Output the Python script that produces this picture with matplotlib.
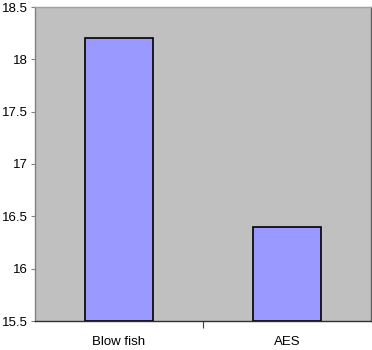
import matplotlib.pyplot as plt
import numpy as np

# Data
categories = ["Blow fish", "AES"]
values = [18.2, 16.4]
y_ticks = [15.5, 16, 16.5, 17, 17.5, 18, 18.5]
y_labels = ["15.5", "16", "16.5", "17", "17.5", "18", "18.5"]

plt.rcParams['font.family'] = ['Liberation Sans', 'DejaVu Sans']

fig = plt.figure(figsize=(3.72, 3.5), dpi=100)
ax = fig.add_axes([35 / 372, 29 / 350, 336 / 372, 314 / 350])
ax.set_facecolor('#c0c0c0')

x = np.arange(len(categories))
ax.bar(x, [v - 15.5 for v in values], bottom=15.5, width=0.4,
       color='#9999ff', edgecolor='black', linewidth=1.2, zorder=3)

ax.set_xlim(-0.5, 1.5)
ax.set_ylim(15.5, 18.5)
ax.set_yticks(y_ticks)
ax.set_yticklabels(y_labels, fontsize=9.5)

# x ticks sit between categories, labels centered under bars
ax.set_xticks([0.5])
ax.set_xticklabels([])
ax.set_xticks(x, minor=True)
ax.set_xticklabels(categories, minor=True, fontsize=9.5)
ax.tick_params(axis='x', which='minor', length=0, pad=11)
ax.tick_params(axis='x', which='major', length=5, color='#404040', direction='out')
ax.tick_params(axis='y', length=3, color='#808080', direction='out', pad=2)

ax.spines['left'].set_color('#808080')
ax.spines['top'].set_color('#a0a0a0')
ax.spines['right'].set_color('#606060')
ax.spines['bottom'].set_color('#303030')
for s in ax.spines.values():
    s.set_linewidth(1)

fig.savefig('out.png', dpi=100)
